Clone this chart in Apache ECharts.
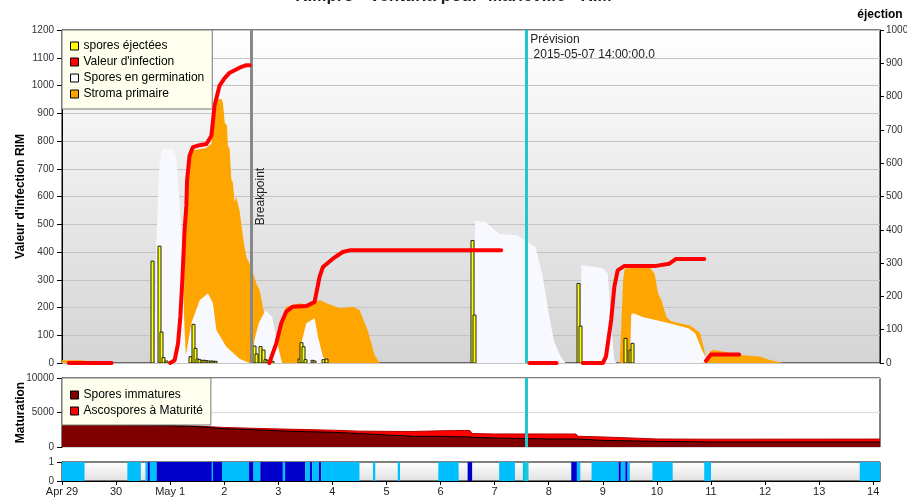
<!DOCTYPE html>
<html><head><meta charset="utf-8">
<script src="https://cdn.jsdelivr.net/npm/echarts@6/dist/echarts.min.js"></script>
<style>html,body{margin:0;padding:0;background:#fff}#c{width:907px;height:497px}</style>
</head><body><div id="c"></div>
<script>
// ---- texts ----
const titleText = 'RIMpro - Venturia pour  Marieville - RIM';
const dayLabels = ['Apr 29','30','May 1','2','3','4','5','6','7','8','9','10','11','12','13','14'];
const breakpointHour = 84;   // 2015-05-02 12:00
const previsionHour = 206;   // 2015-05-07 14:00
const previsionText = 'Prévision\n 2015-05-07 14:00:00.0';

// ---- spores éjectées (hours since Apr 29 00:00, right axis) ----
const ejectHours  = [40,43,44,45,46,57,58,59,60,61,62,63,64,65,66,67,68,85,86,88,89,90,91,92,93,105,106,107,108,111,112,116,117,182,183,229,230,250,252,253];
const ejectValues = [306,351,93,16,6,19,116,44,12,10,8,8,7,6,6,5,5,51,27,49,39,10,8,7,5,12,61,49,10,8,6,10,12,368,144,239,111,74,39,59];

// ---- valeur d'infection (left axis) ----
const infectionHours  = [3,22,35,48,50,51.5,52.5,53.4,54.4,55.2,55.5,56.6,58.1,61,64.1,66.3,67.7,69.9,72,74.4,78.8,81.8,83.3,88,92,95.1,97.3,99.5,102.4,108.4,112.1,114.3,115.8,120.2,124.6,127.6,194.9,200,207.4,219.5,225,231.1,240,241.4,243.7,245.1,246.6,249.6,263.6,269.5,272.5,285,285.4,285.8,288,300.5];
const infectionValues = [0,0,null,0,10,71,166,298,478,568,658,747,778,785,789,819,927,999,1025,1046,1064,1073,1073,null,0,71,143,185,203,205,220,310,346,376,400,406,406,null,0,0,null,0,0,23,155,274,334,350,350,358,375,375,null,8,31,31];

// ---- spores en germination (left axis) ----
const germHours  = [41.1,41.9,42.6,43.3,44.5,49.2,50.7,51.4,53,54,54.9,55.7,57.4,61.1,64.8,67,68.5,72.9,78.8,83.2,84.3,85.4,87.3,90.3,93.3,95.5,97.7,105.5,106.2,108.4,112.1,113.6,115.8,117.3,182.5,183.3,188,193.9,202,205.6,210.1,213.1,216,218.2,221.2,223.4,230,230.5,240,242.2,243.6,245.1,246,252,252.6,253.5,258,263.4,269.5,278,281,284,286.5,287];
const germValues = [0,442,598,718,770,770,742,658,478,200,30,60,143,226,251,214,119,59,15,0,0,83,143,190,166,71,0,0,71,143,161,95,23,0,0,514,508,466,460,442,418,322,179,83,23,0,0,353,341,322,155,11,0,0,175,179,165,155,143,125,107,47,5,0];

// ---- stroma primaire (left axis) ----
const stromaHours  = [0,9.5,10,53.5,54.3,55,56,57,64,66.3,67.5,69.2,70.7,71.4,72.2,73.2,73.6,74.4,75.1,75.8,76.6,77.3,78.8,80.3,81.8,83.2,84.4,86.2,87.7,89.1,90.7,93.6,95.8,96.6,99.5,105.4,110,114.3,117.3,123.2,129.1,132,135.6,138.7,140.9,247.5,248.3,249,249.7,255,260.8,263,264.5,266,268.2,270.5,278.6,283,285,286,286.7,287.5,289,293.4,300.8,309.6,314.1,320];
const stromaValues = [10,10,0,0,300,560,740,765,775,790,880,951,951,939,867,855,783,771,663,651,579,598,550,454,382,359,334,287,262,203,143,71,47,143,203,215,205,227,215,197,203,191,119,29,0,0,155,298,340,345,345,322,251,226,166,150,135,110,50,0,0,41,47,41,29,23,11,0];

// ---- maturation ----
const matHours   = [0,24,42,60,72,84,96,108,120,132,144,156,168,181,182,192,216,228,229,240,264,288,363];
const immatures  = [3250,3250,3150,2950,2650,2520,2350,2230,2130,1950,1750,1550,1550,1450,1400,1310,1160,1160,1160,960,820,730,730];
const maturite   = [0,0,0,80,180,200,270,300,300,350,520,700,800,950,540,580,730,730,390,500,340,400,420];

// ---- bottom strip (1 = light blue, 2 = dark blue) ----
const stripFrom  = [0,29,37,38,39,42,66.5,67,71,83,85,88,98,99,108,110,111,114,115,138,149,167,180,194,204.5,226,228.5,235,247,248,250,251,262,285,354];
const stripTo    = [10,35,38,39,42,66.5,67,71,83,85,88,98,99,108,110,111,114,115,132,139,150,176,182,201,207,228.5,230,247,248,250,251,252,271,288,363];
const stripLevel = [1,1,1,2,1,2,1,2,1,2,1,2,1,2,1,2,1,2,1,1,1,1,2,1,1,2,1,1,2,1,2,1,1,1,1];

const FONT = "'Liberation Sans', Arial, sans-serif";
const pair = (xs, ys) => xs.map((x, i) => [x, ys[i]]);
const matTotal = immatures.map((v, i) => v + maturite[i]);
const xMax = 363;
const plain = v => String(v);

const chart = echarts.init(document.getElementById('c'), null, {renderer: 'canvas'});
const grad = (a, b) => new echarts.graphic.LinearGradient(0, 0, 0, 1, [{offset: 0, color: a}, {offset: 1, color: b}]);
const hiddenX = (g) => ({gridIndex: g, type: 'value', min: 0, max: xMax, axisLine: {show: false}, axisTick: {show: false}, axisLabel: {show: false}, splitLine: {show: false}});
const cyanLine = {symbol: 'none', silent: true, label: {show: false}, lineStyle: {color: '#20C8CC', width: 3, type: 'solid'}, data: [{xAxis: previsionHour}]};
const nameStyle = {fontWeight: 'bold', fontSize: 12, color: '#000', fontFamily: FONT};

chart.setOption({
  animation: false,
  textStyle: {fontFamily: FONT},
  title: {text: titleText, left: 'center', top: -17, textStyle: {fontSize: 17, fontWeight: 'bold', color: '#222', fontFamily: FONT}},
  legend: [{
    orient: 'vertical', left: 62, top: 30, icon: 'rect', itemWidth: 8, itemHeight: 8, itemGap: 2,
    padding: [9, 8, 8, 8], backgroundColor: '#ffffee', borderColor: '#777', borderWidth: 1, borderRadius: 0,
    textStyle: {fontSize: 12, color: '#000', lineHeight: 14, fontFamily: FONT},
    itemStyle: {borderColor: '#000', borderWidth: 1}, selectedMode: false,
    data: ['spores éjectées', "Valeur d'infection", 'Spores en germination', 'Stroma primaire']
  }, {
    orient: 'vertical', left: 62, top: 378, icon: 'rect', itemWidth: 8, itemHeight: 8, itemGap: 2,
    padding: [10, 8, 7, 8], backgroundColor: '#ffffee', borderColor: '#777', borderWidth: 1, borderRadius: 0,
    textStyle: {fontSize: 12, color: '#000', lineHeight: 14, fontFamily: FONT},
    itemStyle: {borderColor: '#000', borderWidth: 1}, selectedMode: false,
    data: ['Spores immatures', 'Ascospores à Maturité']
  }],
  grid: [
    {left: 62, top: 30, width: 818, height: 333, outerBoundsMode: 'none', containLabel: false, show: true, borderColor: '#000', borderWidth: 1, backgroundColor: grad('#ffffff', '#d4d4d4')},
    {left: 62, top: 378, width: 818, height: 69, outerBoundsMode: 'none', containLabel: false, show: true, borderColor: '#000', borderWidth: 1, backgroundColor: '#ffffff'},
    {left: 62, top: 462, width: 818, height: 19, outerBoundsMode: 'none', containLabel: false, show: true, borderColor: '#000', borderWidth: 1, backgroundColor: grad('#ffffff', '#e0e0e0')}
  ],
  xAxis: [hiddenX(0), hiddenX(1), {
    gridIndex: 2, type: 'value', min: 0, max: xMax,
    axisLine: {show: true, lineStyle: {color: '#000'}},
    axisTick: {show: true, length: 4, lineStyle: {color: '#000'}, customValues: dayLabels.map((_, i) => i * 24)},
    axisLabel: {fontSize: 11, color: '#222', margin: 5, customValues: dayLabels.map((_, i) => i * 24),
      formatter: v => dayLabels[Math.round(v / 24)] || ''},
    splitLine: {show: false}
  }],
  yAxis: [{
    gridIndex: 0, type: 'value', position: 'left', min: 0, max: 1200, interval: 100,
    name: "Valeur d'infection RIM", nameLocation: 'middle', nameGap: 35, nameMoveOverlap: false,
    nameTextStyle: nameStyle,
    axisLine: {show: true, lineStyle: {color: '#000'}}, axisTick: {show: true, length: 5, lineStyle: {color: '#000'}},
    axisLabel: {fontSize: 10, color: '#333', margin: 8, formatter: plain},
    splitLine: {show: true, lineStyle: {color: '#c4c4c4'}}
  }, {
    gridIndex: 0, type: 'value', position: 'right', min: 0, max: 1000, interval: 100,
    name: 'éjection', nameLocation: 'end', nameGap: 9, nameMoveOverlap: false,
    nameTextStyle: nameStyle,
    axisLine: {show: true, lineStyle: {color: '#000'}}, axisTick: {show: true, length: 4, lineStyle: {color: '#000'}},
    axisLabel: {fontSize: 10, color: '#333', margin: 6, formatter: plain},
    splitLine: {show: false}
  }, {
    gridIndex: 1, type: 'value', min: 0, max: 10000, interval: 5000,
    name: 'Maturation', nameLocation: 'middle', nameGap: 35, nameMoveOverlap: false,
    nameTextStyle: nameStyle,
    axisLine: {show: true, lineStyle: {color: '#000'}}, axisTick: {show: true, length: 5, lineStyle: {color: '#000'}},
    axisLabel: {fontSize: 10, color: '#333', margin: 8, formatter: plain},
    splitLine: {show: true, lineStyle: {color: '#d8d8d8'}}
  }, {
    gridIndex: 2, type: 'value', min: 0, max: 1, interval: 1,
    axisLine: {show: true, lineStyle: {color: '#000'}}, axisTick: {show: true, length: 5, lineStyle: {color: '#000'}},
    axisLabel: {fontSize: 10, color: '#333', margin: 8, formatter: plain},
    splitLine: {show: false}
  }],
  series: [
    {name: 'Stroma primaire', type: 'line', xAxisIndex: 0, yAxisIndex: 0, data: pair(stromaHours, stromaValues),
      symbol: 'none', lineStyle: {width: 0}, itemStyle: {color: '#FFA500'}, areaStyle: {color: '#FFA500', opacity: 1}, z: 2},
    {name: 'Spores en germination', type: 'line', xAxisIndex: 0, yAxisIndex: 0, data: pair(germHours, germValues),
      symbol: 'none', lineStyle: {width: 0}, itemStyle: {color: '#F8F8FF'}, areaStyle: {color: '#F8F8FF', opacity: 1}, z: 3},
    {name: 'spores éjectées', type: 'custom', xAxisIndex: 0, yAxisIndex: 1, data: pair(ejectHours, ejectValues),
      encode: {x: 0, y: 1}, itemStyle: {color: '#FFFF00'}, z: 4, clip: true,
      renderItem: (params, api) => {
        const top = api.coord([api.value(0), api.value(1)]);
        const base = api.coord([api.value(0), 0]);
        return {type: 'rect', shape: {x: Math.round(top[0]) - 1, y: top[1], width: 3, height: base[1] - top[1]},
          style: {fill: '#FFFF00', stroke: '#222', lineWidth: 1}};
      }},
    {name: "Valeur d'infection", type: 'line', xAxisIndex: 0, yAxisIndex: 0, data: pair(infectionHours, infectionValues),
      symbol: 'none', connectNulls: false, itemStyle: {color: '#FF0000'}, lineStyle: {color: '#FF0000', width: 4, cap: 'round', join: 'round'}, z: 5,
      markLine: {symbol: 'none', silent: true, label: {show: false}, data: [
        {xAxis: breakpointHour, lineStyle: {color: '#888888', width: 3, type: 'solid'}},
        {xAxis: previsionHour, lineStyle: {color: '#20C8CC', width: 3, type: 'solid'}}
      ]}},
    {name: 'Ascospores à Maturité', type: 'line', xAxisIndex: 1, yAxisIndex: 2, data: pair(matHours, matTotal),
      symbol: 'none', lineStyle: {width: 1, color: '#b00000'}, itemStyle: {color: '#FF0000'}, areaStyle: {color: '#FF0000', opacity: 1}, z: 2},
    {name: 'Spores immatures', type: 'line', xAxisIndex: 1, yAxisIndex: 2, data: pair(matHours, immatures),
      symbol: 'none', lineStyle: {width: 1, color: '#000'}, itemStyle: {color: '#800000'}, areaStyle: {color: '#800000', opacity: 1}, z: 3,
      markLine: cyanLine},
    {name: 'strip', type: 'custom', xAxisIndex: 2, yAxisIndex: 3, clip: true,
      data: stripFrom.map((f, i) => [f, stripTo[i], stripLevel[i]]),
      encode: {x: [0, 1], y: 2},
      renderItem: (params, api) => {
        const p0 = api.coord([api.value(0), 1]);
        const p1 = api.coord([api.value(1), 0]);
        return {type: 'rect', shape: {x: p0[0], y: p0[1], width: p1[0] - p0[0], height: p1[1] - p0[1]},
          style: {fill: api.value(2) === 2 ? '#0000CD' : '#00BFFF'}};
      },
      markLine: cyanLine, z: 3}
  ]
});

// labels attached to the vertical lines, positioned through the axis scale
const bx = chart.convertToPixel({xAxisIndex: 0}, breakpointHour);
const px = chart.convertToPixel({xAxisIndex: 0}, previsionHour);
const midY = chart.convertToPixel({yAxisIndex: 0}, 600);
const topY = chart.convertToPixel({yAxisIndex: 0}, 1200);
chart.setOption({graphic: [
  {type: 'text', x: bx + 3, y: midY, rotation: Math.PI / 2, z: 100,
    style: {text: 'Breakpoint', fill: '#222', font: '12px ' + FONT, align: 'center', verticalAlign: 'top'}},
  {type: 'text', x: px + 4, y: topY + 2, z: 100,
    style: {text: previsionText, fill: '#222', font: '12px ' + FONT, lineHeight: 15, align: 'left', verticalAlign: 'top'}}
]});
</script></body></html>
